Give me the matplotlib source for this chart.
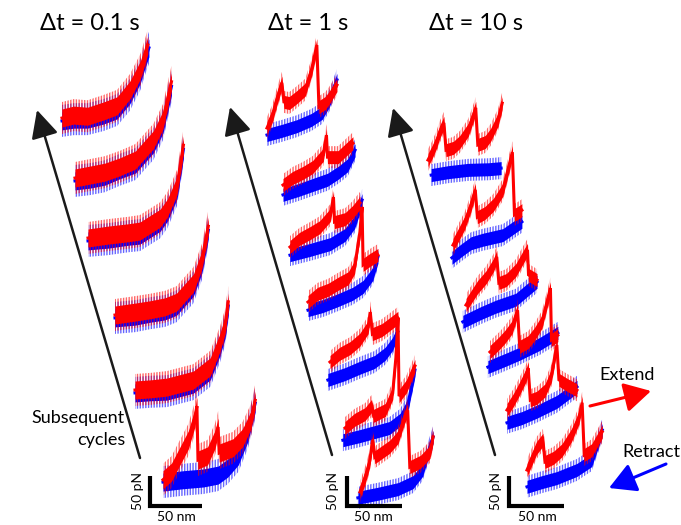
import numpy as np
import matplotlib
matplotlib.use("Agg")
import matplotlib.pyplot as plt

# force-extension traces: extension in nm, force in pN, relative to each trace start
# Δt = 0.1 s
p1_ext_x = [[0, 11, 24, 39, 52, 64, 74, 78, 81],
            [0, 14, 28, 42, 57, 74, 83, 91],
            [0, 19, 38, 49, 68, 75, 84, 90],
            [0, 19, 33, 47, 58, 74, 82, 88],
            [0, 15, 30, 55, 71, 80, 85, 88],
            [0, 8, 14, 24, 30, 32, 33, 42, 49, 52, 53, 66, 75, 83, 87]]
p1_ext_f = [[0, 5, 3, 12, 21, 48, 83, 107, 126],
            [0, 5, 10, 19, 31, 66, 100, 166],
            [0, 5, 9, 12, 34, 52, 90, 160],
            [0, 5, 9, 14, 22, 55, 95, 153],
            [0, 2, 5, 17, 40, 81, 112, 152],
            [-3, 10, 31, 66, 103, 124, 31, 38, 66, 88, 43, 52, 69, 100, 134]]
p1_ret_x = [[0, 11, 24, 39, 52, 64, 74, 78, 82],
            [0, 14, 28, 42, 57, 74, 83, 91],
            [0, 19, 38, 49, 68, 75, 84, 90],
            [0, 19, 33, 47, 58, 74, 82, 88],
            [0, 15, 30, 55, 71, 80, 85, 88],
            [0, 19, 38, 52, 61, 71, 80, 87]]
p1_ret_f = [[-5, -2, -2, 5, 14, 40, 76, 100, 121],
            [-5, -2, 3, 14, 24, 59, 93, 158],
            [-5, -2, 3, 5, 27, 45, 83, 153],
            [-5, -2, 3, 7, 15, 48, 88, 146],
            [-5, -3, -2, 10, 33, 74, 105, 145],
            [-7, -3, 0, 5, 17, 38, 78, 129]]

# Δt = 1 s
p2_ext_x = [[0, 5, 9, 14, 16, 21, 28, 36, 42, 47, 49, 55, 59, 66],
            [0, 9, 19, 28, 38, 41, 42, 52, 59, 66],
            [0, 9, 19, 28, 38, 41, 42, 52, 59, 66],
            [0, 9, 19, 28, 38, 44, 49, 51, 52, 58, 66],
            [0, 9, 19, 28, 36, 38, 40, 49, 57, 64],
            [0, 9, 19, 25, 27, 38, 45, 48, 50, 51, 58, 66],
            [0, 5, 9, 12, 14, 21, 28, 36, 42, 45, 47, 57, 66, 69]]
p2_ext_f = [[0, 21, 48, 78, 45, 43, 53, 66, 100, 143, 36, 43, 53, 74],
            [0, 12, 21, 31, 52, 86, 48, 48, 60, 72],
            [0, 14, 24, 34, 55, 86, 43, 48, 60, 76],
            [0, 14, 21, 31, 41, 60, 121, 164, 64, 72, 81],
            [0, 14, 24, 38, 60, 86, 48, 55, 66, 76],
            [0, 14, 24, 38, 21, 31, 60, 121, 190, 55, 72, 107],
            [0, 26, 52, 90, 60, 69, 78, 95, 129, 141, 43, 52, 69, 95]]
p2_ret_x = [[0, 14, 28, 42, 52, 59, 66],
            [0, 14, 28, 42, 52, 61, 68],
            [0, 19, 38, 52, 61, 68],
            [0, 14, 28, 42, 52, 61, 66],
            [-2, 14, 28, 42, 52, 59, 64],
            [-2, 14, 28, 42, 52, 59, 66],
            [-2, 17, 36, 50, 59, 69]]
p2_ret_f = [[-12, -5, 3, 14, 26, 48, 83],
            [-17, -9, 0, 9, 21, 34, 60],
            [-14, -5, 5, 21, 43, 81],
            [-14, -7, 3, 14, 26, 48, 78],
            [-31, -21, -10, 0, 14, 31, 52],
            [-21, -14, -7, 0, 14, 38, 100],
            [-10, -3, 5, 17, 38, 95]]

# Δt = 10 s
p3_ext_x = [[0, 4, 8, 11, 15, 17, 24, 30, 38, 43, 45, 47, 54, 59, 66, 70],
            [0, 5, 11, 17, 21, 23, 30, 38, 47, 53, 56, 58, 61, 65],
            [0, 6, 11, 19, 26, 29, 31, 38, 47, 55, 58, 59, 67],
            [0, 8, 14, 21, 26, 28, 36, 42, 49, 55, 57, 58, 64],
            [0, 6, 11, 18, 20, 22, 28, 36, 42, 47, 49, 57, 66],
            [0, 5, 9, 15, 17, 25, 33, 42, 49, 52, 54, 61, 71]]
p3_ext_f = [[0, 14, 31, 48, 64, 17, 21, 31, 52, 78, 90, 26, 31, 43, 69, 98],
            [0, 17, 38, 69, 95, 48, 55, 69, 95, 138, 160, 52, 55, 60],
            [0, 17, 31, 48, 69, 83, 38, 43, 60, 86, 95, 52, 43],
            [0, 14, 26, 43, 72, 9, 17, 31, 52, 95, 110, 21, 29],
            [0, 17, 34, 60, 72, 17, 21, 34, 60, 112, 52, 43, 34],
            [0, 21, 38, 52, 14, 21, 34, 60, 90, 116, 26, 34, 66]]
p3_ret_x = [[3, 19, 38, 57, 69],
            [-1, 8, 17, 28, 47, 65],
            [-3, 14, 28, 47, 67],
            [-2, 14, 28, 47, 64],
            [0, 14, 28, 47, 66],
            [0, 14, 28, 47, 61, 71]]
p3_ret_f = [[-26, -21, -17, -16, -14],
            [-22, -9, 3, 9, 17, 40],
            [-29, -14, -3, 9, 40],
            [-26, -14, -3, 14, 33],
            [-22, -14, -3, 14, 40],
            [-29, -21, -14, 0, 17, 69]]

titles = ["\u0394t = 0.1 s", "\u0394t = 1 s", "\u0394t = 10 s"]

# layout (pixels of the 681x525 canvas)
p1_orig = [(62, 118), (75, 178), (88, 238), (115, 315), (135, 390), (163, 478)]
p2_orig = [(267, 128), (283, 185), (290, 247), (308, 302), (330, 362), (345, 428), (360, 492)]
p3_orig = [(428, 160), (453, 245), (466, 305), (490, 352), (507, 410), (527, 470)]
NM_PX = 53 / 50
PN_PX = 29 / 50

RED = "#ff0000"
BLUE = "#0000ff"
FONT = ["Lato", "DejaVu Sans"]
plt.rcParams["hatch.linewidth"] = 1.0

fig = plt.figure(figsize=(6.81, 5.25), dpi=100)
ax = fig.add_axes([0, 0, 1, 1])
ax.set_xlim(0, 681)
ax.set_ylim(525, 0)
ax.axis("off")

z = 1.0


def draw_trace(orig, ext, force, color, core, fuzz):
    global z
    ext = np.asarray(ext, float)
    force = np.asarray(force, float)
    x = orig[0] + ext * NM_PX
    y = orig[1] - force * PN_PX
    # noise spread is along the force axis, so the band is vertical
    ax.fill_between(x, y - fuzz, y + fuzz, facecolor="none", edgecolor=color,
                    hatch="||||||", lw=0, alpha=0.6, zorder=z)
    ax.fill_between(x, y - core, y + core, color=color, lw=0, zorder=z + 0.01)
    ax.plot(x, y, color=color, lw=2.2, solid_joinstyle="miter", zorder=z + 0.02)
    z += 0.1


panels = [(p1_orig, p1_ext_x, p1_ext_f, p1_ret_x, p1_ret_f, 9, 16),
          (p2_orig, p2_ext_x, p2_ext_f, p2_ret_x, p2_ret_f, 6.5, 11),
          (p3_orig, p3_ext_x, p3_ext_f, p3_ret_x, p3_ret_f, 6.5, 11)]

for orig, ex, ef, rx, rf, core, fuzz in panels:
    for k in range(len(orig)):
        draw_trace(orig[k], rx[k], rf[k], BLUE, core, fuzz)
        draw_trace(orig[k], ex[k], ef[k], RED, core, fuzz)

# black "subsequent cycles" arrows
arrows = [((140, 458), (37, 110)), ((332, 455), (230, 107)), ((495, 455), (393, 108))]
for tail, tip in arrows:
    ax.annotate("", xy=tip, xytext=tail, zorder=20,
                arrowprops=dict(arrowstyle="-|>,head_length=0.85,head_width=0.42",
                                color="#1a1a1a", lw=1.8, mutation_scale=20,
                                shrinkA=0, shrinkB=0))

# scale bars
bars = [(150, 202, 138, 176), (347, 402, 333, 373), (509, 564, 496, 537)]
for xb, xe, xt_pn, xt_nm in bars:
    ax.plot([xb, xb, xe], [476, 506, 506], color="black", lw=3, zorder=20,
            solid_joinstyle="miter", solid_capstyle="butt")
    ax.text(xt_pn, 491, "50 pN", rotation=90, ha="center", va="center",
            fontsize=10, family=FONT)
    ax.text(xt_nm, 511, "50 nm", ha="center", va="top", fontsize=10, family=FONT)

# titles
for xc, t in zip([90, 308, 476], titles):
    ax.text(xc, 23, t, ha="center", va="center", fontsize=17, family=FONT)

ax.text(125, 418, "Subsequent", ha="right", va="center", fontsize=13, family=FONT)
ax.text(125, 440, "cycles", ha="right", va="center", fontsize=13, family=FONT)

ax.text(627, 375, "Extend", ha="center", va="center", fontsize=13, family=FONT)
ax.text(622, 452, "Retract", ha="left", va="center", fontsize=13, family=FONT)
ax.annotate("", xy=(651, 391), xytext=(590, 406), zorder=20,
            arrowprops=dict(arrowstyle="-|>,head_length=0.9,head_width=0.5",
                            color=RED, lw=2.2, mutation_scale=18, shrinkA=0, shrinkB=0))
ax.annotate("", xy=(609, 488), xytext=(666, 464), zorder=20,
            arrowprops=dict(arrowstyle="-|>,head_length=0.9,head_width=0.5",
                            color=BLUE, lw=2.2, mutation_scale=18, shrinkA=0, shrinkB=0))

fig.savefig("out.png", dpi=100)
